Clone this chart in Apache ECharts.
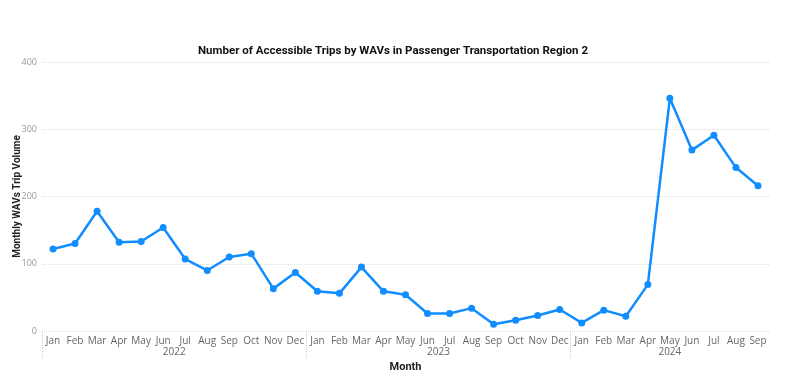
<!DOCTYPE html>
<html><head><meta charset="utf-8">
<script src="https://cdn.jsdelivr.net/npm/echarts@6/dist/echarts.min.js"></script>
<style>html,body{margin:0;padding:0;background:#fff}#c{width:800px;height:382px}</style>
</head><body><div id="c"></div>
<script>
const months = ["Jan","Feb","Mar","Apr","May","Jun","Jul","Aug","Sep","Oct","Nov","Dec",
  "Jan","Feb","Mar","Apr","May","Jun","Jul","Aug","Sep","Oct","Nov","Dec",
  "Jan","Feb","Mar","Apr","May","Jun","Jul","Aug","Sep"];
const trips = [122,130,178,132,133,154,107,90,110,115,63,87,
  59,56,95,59,54,26,26,34,10,16,23,32,
  12,31,22,69,346,269,291,243,216];
const years = ["2022","2023","2024"];
const yearCenters = [5.5, 17.5, 28];
const yearBounds = [-0.5, 11.5, 23.5];
const yTicks = [0,100,200,300,400];

const chart = echarts.init(document.getElementById('c'));
chart.setOption({
  animation:false,
  title:{text:'Number of Accessible Trips by WAVs in Passenger Transportation Region 2',
    left:388, textAlign:'center', top:40,
    textStyle:{fontFamily:'Roboto',fontWeight:'bold',fontSize:11.5,color:'#111'}},
  grid:{left:42,right:31,top:62,height:269,outerBoundsMode:'none',containLabel:false},
  xAxis:[{
    type:'category', data:months, boundaryGap:true,
    axisLine:{show:false}, axisTick:{show:false},
    axisLabel:{color:'#666',fontSize:10,fontFamily:'Open Sans',margin:5,interval:0},
    name:'Month', nameLocation:'middle', nameGap:31, nameMoveOverlap:false,
    nameTextStyle:{fontFamily:'Roboto',fontWeight:'bold',fontSize:11,color:'#222'}
  },{
    type:'value', position:'bottom', min:-0.5, max:32.5,
    axisLine:{show:false}, splitLine:{show:false},
    axisTick:{show:true, customValues:yearBounds, length:27,
      lineStyle:{type:'dotted',color:'#ccc',width:1}},
    axisLabel:{customValues:yearCenters, color:'#666',fontSize:10,fontFamily:'Open Sans',margin:16,
      formatter:function(v){const i=yearCenters.indexOf(v);return i>=0?years[i]:'';}}
  }],
  yAxis:{
    type:'value', min:0, max:400, interval:100,
    axisLine:{show:false}, axisTick:{show:false},
    axisLabel:{color:'#999',fontSize:9,fontFamily:'Open Sans',margin:5,
      customValues:yTicks},
    splitLine:{show:true,lineStyle:{type:'dotted',color:'#ddd',width:1}},
    name:'Monthly WAVs Trip Volume', nameLocation:'middle', nameGap:20, nameMoveOverlap:false,
    nameTextStyle:{fontFamily:'Roboto',fontWeight:'bold',fontSize:10,color:'#222'}
  },
  series:[{
    type:'line', data:trips, xAxisIndex:0,
    lineStyle:{color:'#118DFF',width:2.5},
    itemStyle:{color:'#118DFF'},
    symbol:'circle', symbolSize:7
  }]
});
</script></body></html>
